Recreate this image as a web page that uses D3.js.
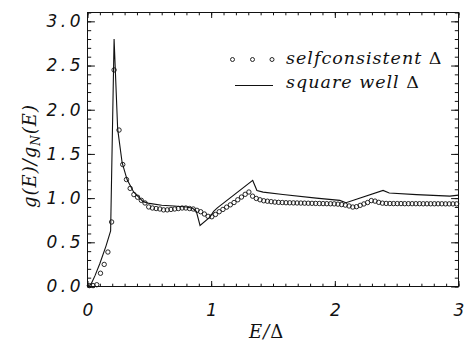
<!DOCTYPE html>
<html>
<head>
<meta charset="utf-8">
<title>g(E)/gN(E)</title>
<script src="https://d3js.org/d3.v7.min.js"></script>
<style>
  body { margin: 0; background: #fff; }
  .tick line { stroke: #111; stroke-width: 1px; }
  .domain { display: none; }
  .num text { font-family: "DejaVu Sans"; font-style: italic; font-size: 17px; fill: #111; }
  .lbl { font-family: "DejaVu Serif"; font-style: italic; fill: #111; }
</style>
</head>
<body>
<div id="chart"></div>
<script>
// selfconsistent gap: E/Delta and g/gN
var selfE = [0.015,0.045,0.075,0.105,0.135,0.165,0.195,0.215,0.255,0.285,0.315,0.345,0.375,0.405,0.435,0.465,0.495,
  0.525,0.555,0.585,0.615,0.645,0.675,0.705,0.735,0.765,0.795,0.825,0.855,0.885,0.915,0.945,0.975,1.005,
  1.035,1.065,1.095,1.125,1.155,1.185,1.215,1.245,1.275,1.305,1.335,1.365,1.395,1.425,1.455,1.485,1.515,
  1.545,1.575,1.605,1.635,1.665,1.695,1.725,1.755,1.785,1.815,1.845,1.875,1.905,1.935,1.965,1.995,
  2.025,2.055,2.085,2.115,2.145,2.175,2.205,2.235,2.265,2.295,2.325,2.355,2.385,2.415,2.445,2.475,
  2.505,2.535,2.565,2.595,2.625,2.655,2.685,2.715,2.745,2.775,2.805,2.835,2.865,2.895,2.925,2.955,2.985];
var selfG = [0.01,0.01,0.02,0.15,0.25,0.39,0.73,2.45,1.77,1.38,1.21,1.11,1.04,1.01,0.975,0.945,0.90,
  0.888,0.882,0.877,0.867,0.867,0.872,0.877,0.882,0.888,0.888,0.882,0.877,0.862,0.846,0.82,0.794,0.789,
  0.815,0.846,0.872,0.898,0.924,0.95,0.981,1.012,1.043,1.069,1.022,0.996,0.981,0.97,0.965,0.96,0.955,
  0.952,0.95,0.948,0.947,0.946,0.945,0.944,0.943,0.942,0.941,0.94,0.939,0.938,0.937,0.936,0.935,
  0.932,0.927,0.921,0.911,0.899,0.903,0.918,0.934,0.950,0.972,0.966,0.952,0.943,0.940,0.939,0.938,
  0.938,0.938,0.937,0.937,0.937,0.937,0.937,0.936,0.936,0.936,0.936,0.936,0.936,0.935,0.935,0.935,0.935];

// square well gap
var wellE = [0,0.03,0.06,0.10,0.15,0.187,0.215,0.244,0.28,0.32,0.373,0.45,0.5,0.6,0.7,0.8,0.85,0.88,0.91,
  0.99,1.02,1.05,1.336,1.37,1.42,1.58,1.85,2.04,2.09,2.39,2.44,2.66,2.93,3.0];
var wellG = [0,0.03,0.12,0.26,0.46,0.63,2.80,1.78,1.40,1.21,1.07,0.96,0.94,0.92,0.91,0.90,0.885,0.85,0.69,
  0.785,0.85,0.89,1.20,1.087,1.068,1.04,1.0,0.974,0.948,1.087,1.057,1.04,1.023,1.034];

var xMajor = [0, 1, 2, 3];
var yMajor = [0, 0.5, 1.0, 1.5, 2.0, 2.5, 3.0];

var width = 464, height = 343;
var pL = 87.5, pR = 458.5, pT = 12.5, pB = 286.5;

var svg = d3.select("#chart").append("svg")
  .attr("width", width).attr("height", height);

var x = d3.scaleLinear().domain([0, 3]).range([pL, pR]);
var y = d3.scaleLinear().domain([0, 3.1]).range([pB, pT]);

var xMinor = d3.range(0, 3.001, 0.1).map(function(v) { return +v.toFixed(1); });
var yMinor = d3.range(0, 3.101, 0.1).map(function(v) { return +v.toFixed(1); });

//ticks point inward on all four sides
svg.append("g").attr("class", "num").attr("transform", "translate(0," + pB + ")")
  .call(d3.axisBottom(x).tickValues(xMajor).tickSizeInner(-5.5).tickSizeOuter(0).tickPadding(17)
    .tickFormat(d3.format("d")));
svg.append("g").attr("transform", "translate(0," + pB + ")")
  .call(d3.axisBottom(x).tickValues(xMinor).tickSizeInner(-2.8).tickSizeOuter(0).tickFormat(""));
svg.append("g").attr("transform", "translate(0," + pT + ")")
  .call(d3.axisTop(x).tickValues(xMajor).tickSizeInner(-5.5).tickSizeOuter(0).tickFormat(""));
svg.append("g").attr("transform", "translate(0," + pT + ")")
  .call(d3.axisTop(x).tickValues(xMinor).tickSizeInner(-2.8).tickSizeOuter(0).tickFormat(""));

var yl = svg.append("g").attr("class", "num").attr("transform", "translate(" + pL + ",0)")
  .call(d3.axisLeft(y).tickValues(yMajor).tickSizeInner(-7.4).tickSizeOuter(0).tickPadding(3.5)
    .tickFormat(d3.format(".1f")));
yl.selectAll("text").style("letter-spacing", "3.5px");
svg.append("g").attr("transform", "translate(" + pL + ",0)")
  .call(d3.axisLeft(y).tickValues(yMinor).tickSizeInner(-3.7).tickSizeOuter(0).tickFormat(""));
svg.append("g").attr("transform", "translate(" + pR + ",0)")
  .call(d3.axisRight(y).tickValues(yMajor).tickSizeInner(-7.4).tickSizeOuter(0).tickFormat(""));
svg.append("g").attr("transform", "translate(" + pR + ",0)")
  .call(d3.axisRight(y).tickValues(yMinor).tickSizeInner(-3.7).tickSizeOuter(0).tickFormat(""));

//frame
svg.append("rect").attr("x", pL).attr("y", pT)
  .attr("width", pR - pL).attr("height", pB - pT)
  .attr("fill", "none").attr("stroke", "#111").attr("stroke-width", 1);

//square well line
var line = d3.line().x(function(d) { return x(d[0]); }).y(function(d) { return y(d[1]); });
svg.append("path")
  .datum(wellE.map(function(e, i) { return [e, wellG[i]]; }))
  .attr("d", line)
  .attr("fill", "none").attr("stroke", "#111").attr("stroke-width", 1.1);

//selfconsistent points
svg.append("g").selectAll("circle")
  .data(selfE.map(function(e, i) { return [e, selfG[i]]; }))
  .enter().append("circle")
  .attr("cx", function(d) { return x(d[0]); })
  .attr("cy", function(d) { return y(d[1]); })
  .attr("r", 2.2)
  .attr("fill", "none").attr("stroke", "#111").attr("stroke-width", 0.9);

//legend
[232.5, 252.5, 272].forEach(function(cx) {
  svg.append("circle").attr("cx", cx).attr("cy", 59.5).attr("r", 2)
    .attr("fill", "none").attr("stroke", "#111").attr("stroke-width", 0.9);
});
svg.append("line").attr("x1", 235).attr("x2", 273).attr("y1", 85.5).attr("y2", 85.5)
  .attr("stroke", "#111").attr("stroke-width", 1.1);

var t1 = svg.append("text").attr("class", "lbl").attr("x", 286).attr("y", 64)
  .attr("font-size", 17.5).style("letter-spacing", "1px");
t1.append("tspan").text("selfconsistent ");
t1.append("tspan").style("font-style", "normal").text("\u0394");
var t2 = svg.append("text").attr("class", "lbl").attr("x", 286).attr("y", 88)
  .attr("font-size", 17.5).style("letter-spacing", "1px");
t2.append("tspan").text("square well ");
t2.append("tspan").style("font-style", "normal").text("\u0394");

//axis titles
var xt = svg.append("text").attr("class", "lbl").attr("x", 249).attr("y", 338)
  .attr("font-size", 18).style("letter-spacing", "1px");
xt.append("tspan").text("E/");
xt.append("tspan").style("font-style", "normal").text("\u0394");

var yt = svg.append("text").attr("class", "lbl").attr("font-size", 18)
  .style("letter-spacing", "1px")
  .attr("text-anchor", "middle")
  .attr("transform", "translate(36,156)rotate(-90)");
yt.append("tspan").text("g(E)/g");
yt.append("tspan").attr("font-size", 12).attr("dy", 4).text("N");
yt.append("tspan").attr("dy", -4).text("(E)");
</script>
</body>
</html>
